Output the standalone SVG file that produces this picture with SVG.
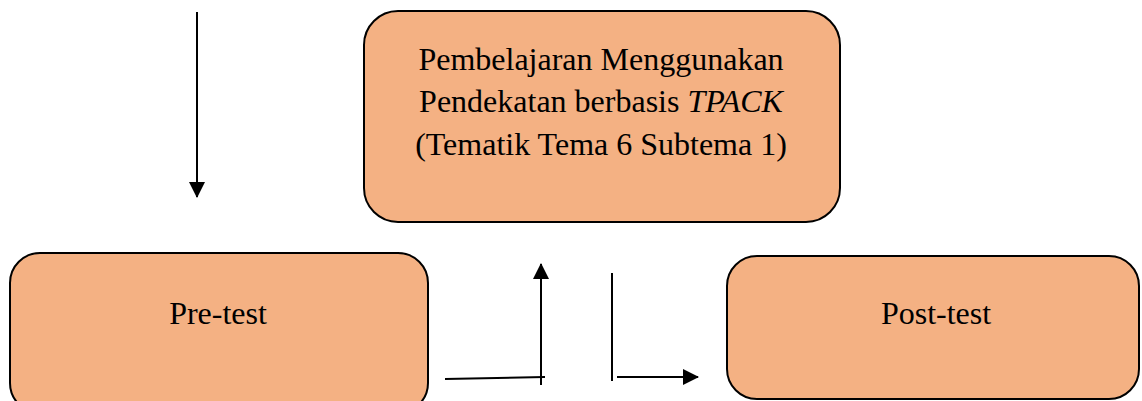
<svg xmlns="http://www.w3.org/2000/svg" width="1142" height="401" viewBox="0 0 1142 401">
  <style>
    .box { fill: #F4B183; stroke: #000; stroke-width: 2; }
    .label { font-family: "Liberation Serif", "Times New Roman", serif; font-size: 32px; fill: #000; text-anchor: middle; }
    .line { stroke: #000; stroke-width: 2; fill: none; }
  </style>
  <defs>
    <marker id="arrow" viewBox="0 0 16 16" refX="15" refY="8" markerWidth="16" markerHeight="16" markerUnits="userSpaceOnUse" orient="auto">
      <path d="M0,0 L16,8 L0,16 Z" fill="#000"/>
    </marker>
  </defs>

  <g id="node-pembelajaran">
    <rect class="box" x="364" y="11" width="476" height="211" rx="34" ry="34"/>
    <text class="label" x="601" y="70">Pembelajaran Menggunakan</text>
    <text class="label" x="601" y="112">Pendekatan berbasis <tspan font-style="italic">TPACK</tspan></text>
    <text class="label" x="601" y="155">(Tematik Tema 6 Subtema 1)</text>
  </g>

  <g id="node-pretest">
    <rect class="box" x="10" y="253" width="418" height="160" rx="30" ry="30"/>
    <text class="label" x="218" y="324">Pre-test</text>
  </g>

  <g id="node-posttest">
    <rect class="box" x="727" y="256" width="412" height="143" rx="30" ry="30"/>
    <text class="label" x="936" y="324">Post-test</text>
  </g>

  <g id="connectors">
    <line class="line" x1="197" y1="12" x2="197" y2="197" marker-end="url(#arrow)"/>
    <line class="line" x1="445" y1="379" x2="545" y2="377"/>
    <line class="line" x1="541" y1="385" x2="541" y2="264" marker-end="url(#arrow)"/>
    <line class="line" x1="612" y1="273" x2="612" y2="381"/>
    <line class="line" x1="617" y1="377" x2="698" y2="377" marker-end="url(#arrow)"/>
  </g>
</svg>
